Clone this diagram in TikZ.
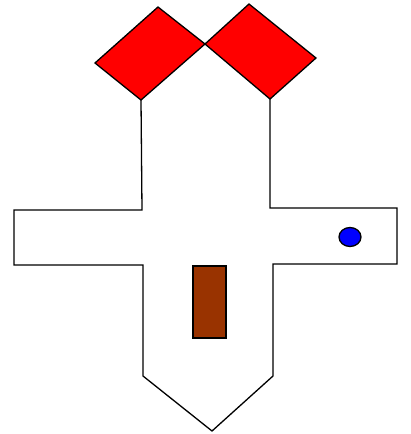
\documentclass[tikz,border=0pt]{standalone}
\usepackage{tikz}
\usetikzlibrary{backgrounds}
\definecolor{ink}{RGB}{0,0,0}
\definecolor{flag}{RGB}{255,0,0}
\definecolor{door}{RGB}{153,51,0}
\definecolor{spot}{RGB}{0,0,255}
\tikzset{
    line cap=round,
    line join=round,
    wall/.style={
        draw=ink,
        line width=1.3pt,
        fill=white
    },
    flagbox/.style={
        draw=ink,
        line width=1.3pt,
        fill=flag
    },
    doorbox/.style={
        draw=ink,
        line width=1.3pt,
        fill=door
    },
    knob/.style={
        draw=ink,
        line width=1.3pt,
        fill=spot
    }
}

\begin{document}
\begin{tikzpicture}[x=1pt, y=-1pt]
\useasboundingbox (0,0) rectangle (410,434);

% Body outline
\draw[wall] (141,100) -- (142,210) -- (14,210) -- (14,265) -- (143,265)
    -- (143,376) -- (212,431) -- (273,376) -- (273,264) -- (397,264)
    -- (397,208) -- (270,208) -- (270,99);

% Flags
\draw[flagbox] (158,7) -- (205,44) -- (141,100) -- (95,63) -- cycle;
\draw[flagbox] (249,4) -- (316,58) -- (270,99) -- (205,44) -- cycle;

% Door
\draw[doorbox] (193,266) rectangle (226,338);

% Knob
\draw[knob] (350,237) ellipse (11 and 9.5);
\end{tikzpicture}
\end{document}
